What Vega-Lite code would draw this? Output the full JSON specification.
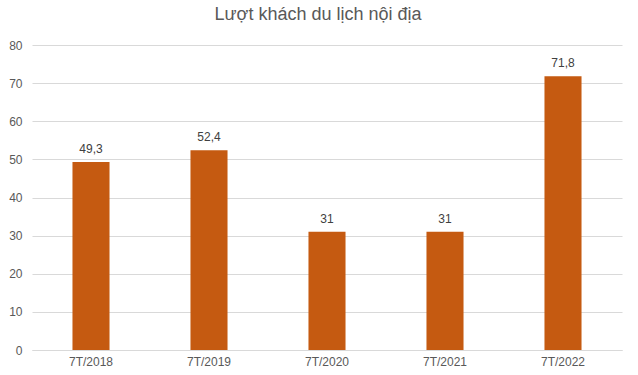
{
  "$schema": "https://vega.github.io/schema/vega-lite/v6.json",
  "width": 590,
  "height": 305,
  "autosize": "none",
  "padding": {"left": 32, "top": 45, "right": 16, "bottom": 25},
  "background": "white",
  "title": {
    "text": "Lượt khách du lịch nội địa",
    "font": "Liberation Sans",
    "fontSize": 18,
    "fontWeight": "normal",
    "color": "#595959",
    "anchor": "middle",
    "dx": -9,
    "offset": 15
  },
  "config": {
    "locale": {"number": {"decimal": ",", "thousands": ".", "grouping": [3], "currency": ["", " ₫"]}},
    "view": {"stroke": null},
    "font": "Liberation Sans"
  },
  "data": {
    "values": [
      {"period": "7T/2018", "value": 49.3},
      {"period": "7T/2019", "value": 52.4},
      {"period": "7T/2020", "value": 31},
      {"period": "7T/2021", "value": 31},
      {"period": "7T/2022", "value": 71.8}
    ]
  },
  "encoding": {
    "x": {
      "field": "period",
      "type": "nominal",
      "sort": null,
      "scale": {"paddingInner": 0.686, "paddingOuter": 0.343},
      "axis": {
        "title": null,
        "labelAngle": 0,
        "labelFontSize": 12,
        "labelColor": "#595959",
        "labelPadding": 6,
        "ticks": false,
        "domainColor": "#d9d9d9",
        "domainWidth": 1
      }
    },
    "y": {
      "field": "value",
      "type": "quantitative",
      "scale": {"domain": [0, 80]},
      "axis": {
        "title": null,
        "values": [0, 10, 20, 30, 40, 50, 60, 70, 80],
        "labelFontSize": 12,
        "labelColor": "#595959",
        "labelPadding": 10,
        "ticks": false,
        "domain": false,
        "gridColor": "#d9d9d9",
        "gridWidth": 1
      }
    }
  },
  "layer": [
    {"mark": {"type": "bar", "color": "#C55A11"}},
    {
      "mark": {"type": "text", "baseline": "bottom", "dy": -6, "fontSize": 12, "color": "#404040"},
      "encoding": {"text": {"field": "value", "type": "quantitative", "format": ".1~f"}}
    }
  ]
}
